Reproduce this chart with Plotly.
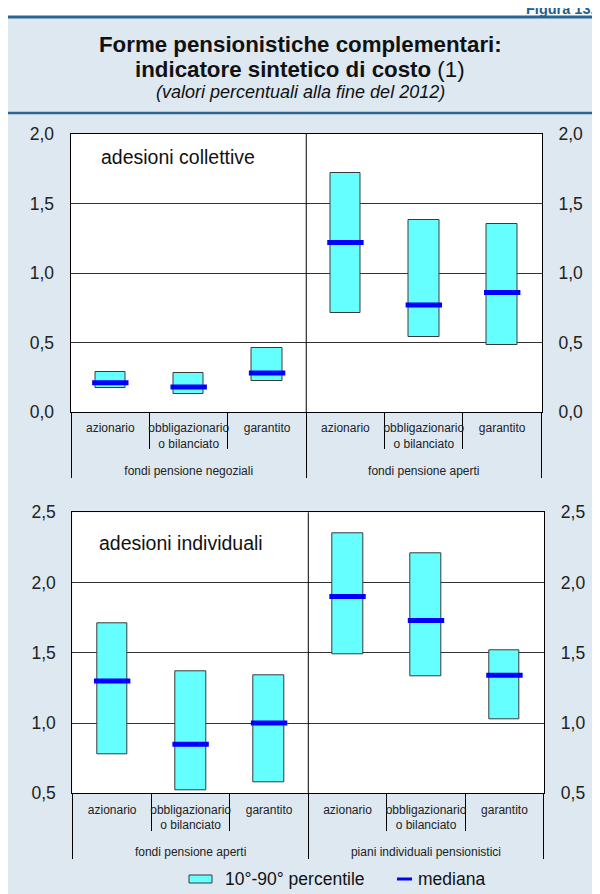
import plotly.graph_objects as go

# ========================
# Dati
# ========================
tipi = ["azionario", "obbligazionario<br>o bilanciato<br>\u00a0", "garantito"] * 2

gruppi_coll = ["fondi pensione negoziali"] * 3 + ["fondi pensione aperti"] * 3
coll_p10 = [0.17, 0.13, 0.22, 0.71, 0.54, 0.48]
coll_p90 = [0.29, 0.28, 0.46, 1.72, 1.38, 1.35]
coll_med = [0.21, 0.18, 0.28, 1.22, 0.77, 0.86]

gruppi_ind = ["fondi pensione aperti"] * 3 + ["piani individuali pensionistici"] * 3
ind_p10 = [0.78, 0.52, 0.58, 1.49, 1.33, 1.03]
ind_p90 = [1.71, 1.37, 1.34, 2.35, 2.21, 1.52]
ind_med = [1.30, 0.85, 1.00, 1.90, 1.73, 1.34]

W, H = 600, 894
OFF = 8  # margine del body della pagina
FONT = "Liberation Sans, Arial, sans-serif"
BG = "#dde8f1"
CIANO = "#66ffff"
BLU = "#0000ff"
LINEA = "#2a6690"


def px(x):
    return (x - OFF) / W


def py(y):
    return 1 - (y - OFF) / H


fig = go.Figure()

# ========================
# Barre (10-90 percentile) e mediane
# ========================
pannelli = [
    ("x", "y", "y3", gruppi_coll, coll_p10, coll_p90, coll_med),
    ("x2", "y2", "y4", gruppi_ind, ind_p10, ind_p90, ind_med),
]
for xa, ya, ya_dx, gruppi, p10, p90, med in pannelli:
    fig.add_trace(go.Bar(
        x=[gruppi, tipi],
        y=[a - b for a, b in zip(p90, p10)],
        base=p10,
        width=0.39,
        marker=dict(color=CIANO, line=dict(color="#3a3a3a", width=1)),
        xaxis=xa, yaxis=ya, showlegend=False, hoverinfo="skip",
    ))
    fig.add_trace(go.Scatter(
        x=[gruppi, tipi],
        y=med,
        mode="markers",
        marker=dict(symbol="line-ew", size=26, line=dict(width=5, color=BLU)),
        xaxis=xa, yaxis=ya, showlegend=False, hoverinfo="skip",
    ))
    # traccia invisibile per far disegnare l'asse di destra
    fig.add_trace(go.Scatter(
        x=[gruppi, tipi], y=med, mode="markers", marker=dict(opacity=0),
        xaxis=xa, yaxis=ya_dx, showlegend=False, hoverinfo="skip",
    ))

# ========================
# Assi
# ========================
comuni_x = dict(
    type="multicategory", showline=True, linecolor="black", linewidth=1,
    mirror=True, showgrid=False, tickson="boundaries", ticks="outside",
    ticklen=36, tickcolor="black", tickwidth=1, tickangle=0,
    ticklabelstandoff=5,
    showdividers=True, dividercolor="black", dividerwidth=1,
    tickfont=dict(family=FONT, size=12, color="#222222"),
    automargin=False, fixedrange=True,
)
comuni_y = dict(
    showline=True, linecolor="black", linewidth=1, showgrid=True,
    gridcolor="#333333", gridwidth=1, zeroline=False, dtick=0.5,
    tickformat=".1f", ticks="", ticklabelstandoff=12,
    tickfont=dict(family=FONT, size=17.5, color="#222222"),
    automargin=False, fixedrange=True,
)

top_dom = [py(412), py(134)]
bot_dom = [py(793.3), py(512.3)]

fig.update_layout(
    xaxis=dict(domain=[px(70.5), px(542)], anchor="y", **comuni_x),
    yaxis=dict(domain=top_dom, anchor="x", range=[0, 2], **comuni_y),
    yaxis3=dict(overlaying="y", side="right", anchor="x", range=[0, 2],
                **{**comuni_y, "showgrid": False}),
    xaxis2=dict(domain=[px(72.3), px(544.3)], anchor="y2", **{**comuni_x, "ticklen": 37}),
    yaxis2=dict(domain=bot_dom, anchor="x2", range=[0.5, 2.5], **comuni_y),
    yaxis4=dict(overlaying="y2", side="right", anchor="x2", range=[0.5, 2.5],
                **{**comuni_y, "showgrid": False}),
)

# ========================
# Sfondo, linee e testi
# ========================
shapes = [
    dict(type="rect", xref="paper", yref="paper", x0=-0.01, x1=1.01, y0=py(17), y1=1.01,
         fillcolor="white", line=dict(width=0), layer="below"),
    dict(type="line", xref="paper", yref="paper", x0=-0.01, x1=1.01, y0=py(17), y1=py(17),
         line=dict(color=LINEA, width=3)),
    dict(type="line", xref="paper", yref="paper", x0=-0.01, x1=1.01, y0=py(113), y1=py(113),
         line=dict(color=LINEA, width=2.5)),
    dict(type="line", xref="x domain", yref="y domain", x0=0.5, x1=0.5, y0=0, y1=1,
         line=dict(color="black", width=1)),
    dict(type="line", xref="x2 domain", yref="y2 domain", x0=0.5, x1=0.5, y0=0, y1=1,
         line=dict(color="black", width=1)),
    # legenda
    dict(type="rect", xref="paper", yref="paper", x0=px(189), x1=px(212), y0=py(883), y1=py(875),
         fillcolor=CIANO, line=dict(color="#3a3a3a", width=1)),
    dict(type="line", xref="paper", yref="paper", x0=px(397), x1=px(412), y0=py(879), y1=py(879),
         line=dict(color=BLU, width=3)),
]


def testo(t, x, y, size, xanchor="center", color="#111111"):
    return dict(text=t, xref="paper", yref="paper", x=px(x), y=py(y), xanchor=xanchor,
                yanchor="middle", showarrow=False, font=dict(family=FONT, size=size, color=color))


annotations = [
    testo("<b>Figura 13.</b>", 524, 9, 14.5, xanchor="left", color="#1d5f95"),
    testo("<b>Forme pensionistiche complementari:</b>", 300, 45, 22.3),
    testo("<b>indicatore sintetico di costo</b> (1)", 300, 69, 22.3),
    testo("<i>(valori percentuali alla fine del 2012)</i>", 300, 92, 18),
    testo("adesioni collettive", 99, 157, 19.5, xanchor="left"),
    testo("adesioni individuali", 97, 543, 19.5, xanchor="left"),
    testo("10°-90° percentile", 223, 879, 17.5, xanchor="left"),
    testo("mediana", 416, 879, 17.5, xanchor="left"),
]

fig.update_layout(
    width=W, height=H,
    margin=dict(l=0, r=0, t=0, b=0),
    paper_bgcolor=BG, plot_bgcolor="white",
    separators=", ",
    bargap=0, barmode="overlay",
    shapes=shapes, annotations=annotations,
    font=dict(family=FONT),
)

fig.write_html("out.html")
